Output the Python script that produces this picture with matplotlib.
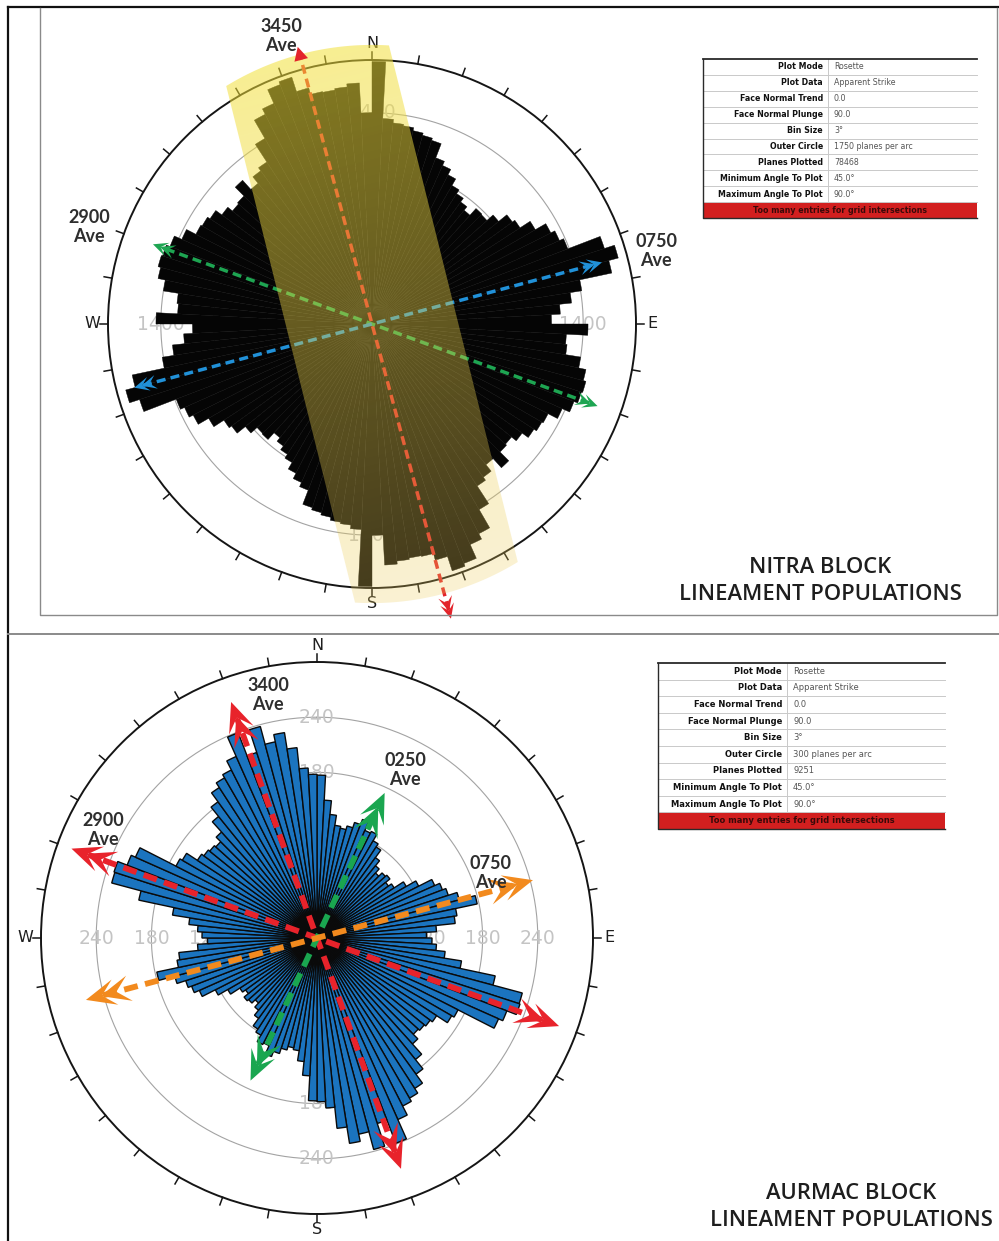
import numpy as np
import matplotlib.pyplot as plt
from matplotlib.patches import Polygon, Rectangle

W_PX, H_PX = 999, 1241

# 3 degree strike bins from 0 to 180; strikes are axial so 180-360 repeats them
bin_centres = np.arange(1.5, 180, 3)

nitra_counts = [
    1740, 1364, 1340, 1330, 1310, 1295, 1280, 1180, 1150, 1110,
    1060, 1030, 1000, 970, 1030, 1025, 1080, 1150, 1170, 1250,
    1330, 1360, 1390, 1620, 1690, 1625, 1408, 1330, 1250, 1190,
    1432, 1290, 1300, 1400, 1450, 1468, 1460, 1434, 1380, 1310,
    1300, 1280, 1230, 1190, 1200, 1282, 1200, 1255, 1280, 1420,
    1560, 1600, 1700, 1720, 1620, 1575, 1570, 1580, 1600, 1400,
]
aurmac_counts = [
    177, 150, 135, 124, 122, 126, 132, 138, 128, 130,
    122, 118, 108, 101, 95, 100, 102, 96, 100, 112,
    124, 140, 146, 150, 160, 178, 154, 151, 130, 119,
    125, 130, 140, 159, 198, 231, 232, 221, 216, 172,
    169, 155, 152, 150, 148, 155, 170, 183, 195, 201,
    205, 216, 239, 212, 238, 218, 226, 208, 185, 178,
]

nitra_rings = [350, 700, 1050, 1400]
aurmac_rings = [60, 120, 180, 240]

# mean strike directions: azimuth and reach of each double-headed arrow
nitra_arrow_az = [345, 290, 75]
nitra_arrow_reach = [(1902, 2022), (1545, 1591), (1578, 1631)]
nitra_arrow_colors = ['#e3242b', '#1ea552', '#2191d8']
aurmac_arrow_az = [340, 290, 25, 75]
aurmac_arrow_reach = [(273, 267), (284, 280), (174, 171), (243, 260)]
aurmac_arrow_colors = ['#e8232b', '#e8232b', '#1aa650', '#f28a1e']

nitra_labels = [('3450\nAve', 281, 36), ('2900\nAve', 89, 227), ('0750\nAve', 656, 251)]
aurmac_labels = [('3400\nAve', 268, 695), ('2900\nAve', 103, 830),
                 ('0250\nAve', 405, 770), ('0750\nAve', 491, 873)]

table_keys = ['Plot Mode', 'Plot Data', 'Face Normal Trend', 'Face Normal Plunge',
              'Bin Size', 'Outer Circle', 'Planes Plotted',
              'Minimum Angle To Plot', 'Maximum Angle To Plot']
nitra_table = ['Rosette', 'Apparent Strike', '0.0', '90.0', '3°',
               '1750 planes per arc', '78468', '45.0°', '90.0°']
aurmac_table = ['Rosette', 'Apparent Strike', '0.0', '90.0', '3°',
                '300 planes per arc', '9251', '45.0°', '90.0°']
table_warning = 'Too many entries for grid intersections'


def px_box(cx, cy, half):
    return [(cx - half) / W_PX, 1 - (cy + half) / H_PX, 2 * half / W_PX, 2 * half / H_PX]


def rose(fig, cx, cy, r_px, rmax, counts, rings, ring_labels, face, edge, lw):
    ax = fig.add_axes(px_box(cx, cy, r_px), projection='polar')
    ax.set_theta_zero_location('N')
    ax.set_theta_direction(-1)
    ax.set_ylim(0, rmax)
    ax.set_xticks([])
    ax.set_yticks([])
    ax.grid(False)
    ax.spines['polar'].set_color('#151515')
    ax.spines['polar'].set_linewidth(1.4)

    theta = np.deg2rad(np.concatenate([bin_centres, bin_centres + 180]))
    values = np.concatenate([counts, counts])
    ax.bar(theta, values, width=np.deg2rad(3), color=face, edgecolor=edge,
           linewidth=lw, zorder=3)

    circ = np.linspace(0, 2 * np.pi, 500)
    for r in rings:
        ax.plot(circ, np.full_like(circ, r), color='#a3a3a3', lw=0.8, zorder=1)
    for r in ring_labels:
        for a in (0, 90, 180, 270):
            ax.text(np.deg2rad(a), r, str(r), ha='center', va='center',
                    color='#c4c4c4', fontsize=13.5, zorder=2)

    k = 1 + 8 / r_px
    for a in range(0, 360, 10):
        t = np.deg2rad(a)
        ax.plot([t, t], [rmax, rmax * k], color='#151515', lw=1.1, clip_on=False)
    for a, name in zip((0, 90, 180, 270), 'NESW'):
        ax.text(np.deg2rad(a), rmax * (1 + 16 / r_px), name, ha='center',
                va='center', fontsize=11.5, color='#1e1e1e')
    return ax


def overlay(fig, cx, cy, r_px, rmax, scale=1.2):
    ov = fig.add_axes(px_box(cx, cy, r_px * scale), zorder=2)
    ov.set_xlim(-rmax * scale, rmax * scale)
    ov.set_ylim(-rmax * scale, rmax * scale)
    ov.axis('off')
    return ov


def head(ov, tip, az, size, color, double=True, notch=0.55):
    # arrowhead polygon in units, pointing along azimuth az
    L, w = size
    u = np.array([np.sin(np.deg2rad(az)), np.cos(np.deg2rad(az))])
    v = np.array([u[1], -u[0]])
    shape = [(0, 0), (-L, w), (-notch * L, 0), (-L, -w)] if notch else [(0, 0), (-L, w), (-L, -w)]
    offsets = [0, 0.5 * L] if double else [0]
    for off in offsets:
        pts = [np.asarray(tip) + (a - off) * u + b * v for a, b in shape]
        ov.add_patch(Polygon(pts, closed=True, facecolor=color, edgecolor='none', zorder=6))


def arrows(ov, azs, reaches, colors, unit, lw, head_px, dash, top_plain=()):
    for i, (az, (ra, rb), c) in enumerate(zip(azs, reaches, colors)):
        u = np.array([np.sin(np.deg2rad(az)), np.cos(np.deg2rad(az))])
        L = head_px[0] * unit
        a_end = u * (ra - 0.6 * L)
        b_end = -u * (rb - 0.6 * L)
        ov.plot([b_end[0], a_end[0]], [b_end[1], a_end[1]], color=c, lw=lw,
                ls=(0, dash), solid_capstyle='butt', dash_capstyle='butt', zorder=4)
        hs = (head_px[0] * unit, head_px[1] * unit)
        if i in top_plain:
            head(ov, u * ra, az, (hs[0] * 0.9, hs[1]), c, double=False, notch=0)
        else:
            head(ov, u * ra, az, hs, c)
        head(ov, -u * rb, az + 180, hs, c)


def band(ov, az, half_width, radius):
    u = np.array([np.sin(np.deg2rad(az)), np.cos(np.deg2rad(az))])
    v = np.array([u[1], -u[0]])
    s = np.linspace(-half_width, half_width, 60)
    along = np.sqrt(radius ** 2 - s ** 2)
    top = [si * v + ai * u for si, ai in zip(s, along)]
    bot = [si * v - ai * u for si, ai in zip(s[::-1], along[::-1])]
    patch = Polygon(top + bot, closed=True, facecolor='none', edgecolor='none')
    ov.add_patch(patch)

    n = 400
    g = np.linspace(-radius, radius, n)
    gx, gy = np.meshgrid(g, g)
    f = np.clip(((gx * u[0] + gy * u[1]) / radius + 1) / 2, 0, 1)[..., None]
    top_c = np.array([0.95, 0.88, 0.22, 0.55])
    bot_c = np.array([0.93, 0.80, 0.36, 0.27])
    rgba = bot_c + (top_c - bot_c) * f
    im = ov.imshow(rgba, extent=(-radius, radius, -radius, radius), origin='lower',
                   zorder=5, interpolation='bilinear')
    im.set_clip_path(patch)
    ov.set_aspect('auto')


def table(page, x0, y0, x1, xdiv, row_h, keys, values, fs):
    n = len(keys) + 1
    y1 = y0 + n * row_h
    for i in range(1, n):
        page.plot([x0, x1], [y0 + i * row_h] * 2, color='#c9c9c9', lw=0.7)
    page.plot([xdiv, xdiv], [y0, y1 - row_h], color='#c9c9c9', lw=0.7)
    page.add_patch(Rectangle((x0, y1 - row_h), x1 - x0, row_h, facecolor='#d21f1f',
                             edgecolor='none'))
    page.plot([x0, x1], [y0, y0], color='#2a2a2a', lw=1.3)
    page.plot([x0, x0, x1], [y0, y1, y1], color='#2a2a2a', lw=1.0)
    for i, (k, v) in enumerate(zip(keys, values)):
        yc = y0 + (i + 0.5) * row_h
        page.text(xdiv - 5, yc, k, ha='right', va='center', fontsize=fs,
                  fontweight='bold', color='#111111')
        page.text(xdiv + 6, yc, v, ha='left', va='center', fontsize=fs, color='#555555')
    page.text((x0 + x1) / 2, y1 - row_h / 2, table_warning, ha='center', va='center',
              fontsize=fs, fontweight='bold', color='#3a0a0a')


fig = plt.figure(figsize=(W_PX / 100, H_PX / 100), dpi=100)

# NITRA block
top_c = (372, 324, 264, 1750)
rose(fig, *top_c, nitra_counts, nitra_rings, [1400], '#050505', '#050505', 0.3)
ov = overlay(fig, *top_c)
u_top = 1750 / 264
arrows(ov, nitra_arrow_az, nitra_arrow_reach, nitra_arrow_colors, u_top, 2.5,
       (15, 7), (2.6, 1.5), top_plain=(0,))
band(ov, 346, 556, 1850)
ov.set_xlim(-1750 * 1.2, 1750 * 1.2)
ov.set_ylim(-1750 * 1.2, 1750 * 1.2)

# AURMAC block
bot_c = (317, 938, 276, 300)
rose(fig, *bot_c, aurmac_counts, aurmac_rings, [120, 180, 240], '#1b74bf', '#0a0a0a', 1.0)
ov2 = overlay(fig, *bot_c)
arrows(ov2, aurmac_arrow_az, aurmac_arrow_reach, aurmac_arrow_colors, 300 / 276, 4.2,
       (30, 13), (2.4, 1.3))

# frames, labels, titles and tables on a page-sized axes
page = fig.add_axes([0, 0, 1, 1], zorder=3)
page.set_xlim(0, W_PX)
page.set_ylim(H_PX, 0)
page.axis('off')
page.plot([8, 999], [7, 7], color='#111111', lw=1.6)
page.plot([8, 8], [7, 1241], color='#111111', lw=1.6)
page.plot([40, 40, 997, 997], [8, 615, 615, 8], color='#8a8a8a', lw=1.0)
page.plot([8, 999], [634, 634], color='#8a8a8a', lw=1.4)

for text, x, y in nitra_labels + aurmac_labels:
    page.text(x, y, text, ha='center', va='center', fontsize=13, fontweight='bold',
              color='#2e2e2e', family='Lato', linespacing=1.2)

for title, x, y in [('NITRA BLOCK\nLINEAMENT POPULATIONS', 820, 581),
                    ('AURMAC BLOCK\nLINEAMENT POPULATIONS', 851, 1207)]:
    page.text(x, y, title, ha='center', va='center', fontsize=15.8, fontweight='semibold',
              color='#1e1e1e', family='Open Sans', linespacing=1.4)

table(page, 703, 59, 977, 828, 15.9, table_keys, nitra_table, 5.7)
table(page, 658, 663, 945, 787, 16.6, table_keys, aurmac_table, 6.0)

fig.savefig('out.png', dpi=100)
